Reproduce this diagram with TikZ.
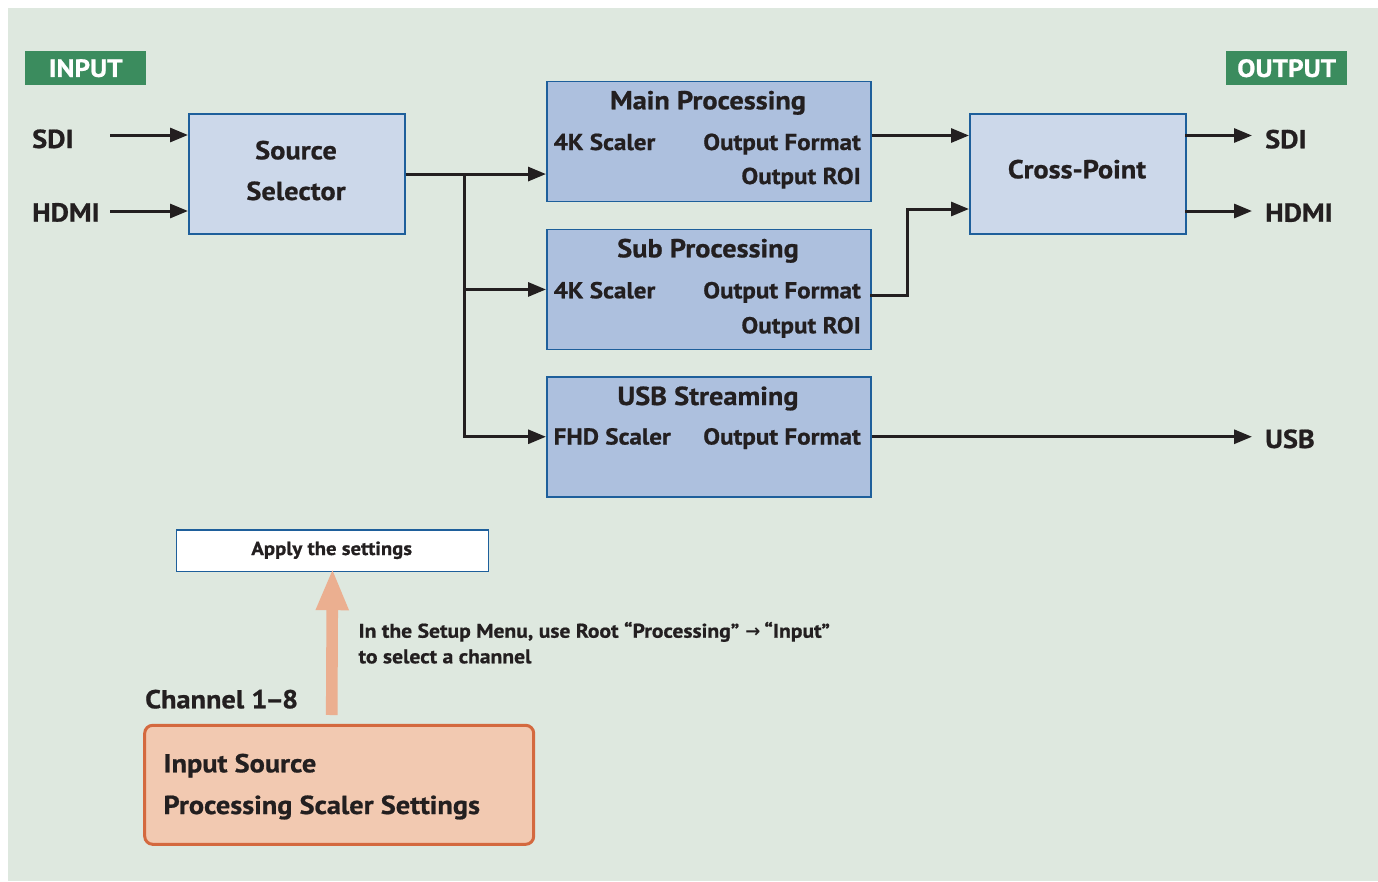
\documentclass[tikz,border=0pt]{standalone}
\usepackage{fontspec}
\setmainfont{PT Sans}[FakeStretch=1.09, BoldFeatures={FakeBold=0.8}]
\newfontfamily\symfont{DejaVu Sans}
\usetikzlibrary{arrows.meta}

\definecolor{bg}{RGB}{222,232,223}
\definecolor{tagbg}{RGB}{59,140,94}
\definecolor{lightbox}{RGB}{204,216,234}
\definecolor{procbox}{RGB}{173,192,222}
\definecolor{boxline}{RGB}{30,95,155}
\definecolor{ink}{RGB}{35,31,32}
\definecolor{peach}{RGB}{242,201,177}
\definecolor{peachline}{RGB}{212,105,63}
\definecolor{peacharrow}{RGB}{235,175,144}

\tikzset{
  blk/.style={draw=boxline, line width=1.5pt, inner sep=0pt, anchor=north west},
  sig/.style={draw=ink, line width=3pt, -{Triangle[length=18pt,width=14pt]}},
  big/.style={text=ink, font=\bfseries\fontsize{26}{30}\selectfont, inner sep=0pt},
  mid/.style={text=ink, font=\bfseries\fontsize{23}{28}\selectfont, inner sep=0pt},
  small/.style={text=ink, font=\bfseries\fontsize{19}{25.6}\selectfont, inner sep=0pt},
  note/.style={text=ink, font=\bfseries\fontsize{19.8}{25.6}\selectfont, inner sep=0pt},
  tag/.style={fill=tagbg, text=white, font=\bfseries\fontsize{25}{30}\selectfont,
    minimum width=121pt, minimum height=34pt, inner sep=0pt, anchor=north west},
}

\begin{document}
\begin{tikzpicture}[x=1pt, y=-1pt]
  \useasboundingbox (0,0) rectangle (1378,881);
  \fill[bg] (8,8) rectangle (1378,881);

  % section tags
  \node[tag] (intag) at (25,51) {INPUT};
  \node[tag] (outtag) at (1226,51) {OUTPUT};

  % input labels
  \node[big, anchor=base west] (sdiin) at (32,148) {SDI};
  \node[big, anchor=base west] (hdmiin) at (32,221.5) {HDMI};

  % source selector
  \node[blk, fill=lightbox, minimum width=216pt, minimum height=120pt] (src) at (188,113.3) {};
  \node[big, anchor=base] (srct1) at (296,159.3) {Source};
  \node[big, anchor=base] (srct2) at (296,200) {Selector};

  % processing blocks
  \node[blk, fill=procbox, minimum width=324pt, minimum height=120pt] (main) at (546,80.7) {};
  \node[big, anchor=base] (maint) at (708,109.3) {Main Processing};
  \node[mid, anchor=base west] (mainsc) at (553.5,150) {4K Scaler};
  \node[mid, anchor=base east] (mainof) at (861,150) {Output Format};
  \node[mid, anchor=base east] (mainroi) at (861,184) {Output ROI};

  \node[blk, fill=procbox, minimum width=324pt, minimum height=120pt] (sub) at (546,228.7) {};
  \node[big, anchor=base] (subt) at (708,257.3) {Sub Processing};
  \node[mid, anchor=base west] (subsc) at (553.5,298.3) {4K Scaler};
  \node[mid, anchor=base east] (subof) at (861,298.3) {Output Format};
  \node[mid, anchor=base east] (subroi) at (861,333.3) {Output ROI};

  \node[blk, fill=procbox, minimum width=324pt, minimum height=120pt] (usb) at (546,376) {};
  \node[big, anchor=base] (usbt) at (708,405) {USB Streaming};
  \node[mid, anchor=base west] (usbsc) at (553.5,444.5) {FHD Scaler};
  \node[mid, anchor=base east] (usbof) at (861,444.5) {Output Format};

  % cross-point
  \node[blk, fill=lightbox, minimum width=216pt, minimum height=120pt] (cp) at (969,113.3) {};
  \node[big, anchor=base] (cpt) at (1077,178.3) {Cross-Point};

  % output labels
  \node[big, anchor=base west] (sdiout) at (1265,148.3) {SDI};
  \node[big, anchor=base west] (hdmiout) at (1265,221.7) {HDMI};
  \node[big, anchor=base west] (usbout) at (1265,448) {USB};

  % connector ends
  \coordinate (sdiA) at (110,135);
  \coordinate (hdmiA) at (110,211);
  \coordinate (br) at (464,173.3);
  \coordinate (cpin1) at (969,135.5);
  \coordinate (cpin2) at (969,209);
  \coordinate (subout) at (870,295);
  \coordinate (elbow) at (907,209);
  \coordinate (cpout1) at (1185,135.5);
  \coordinate (cpout2) at (1185,211);
  \coordinate (endx) at (1252,0);

  % signal flow
  \draw[sig] (sdiA) -- (sdiA -| src.west);
  \draw[sig] (hdmiA) -- (hdmiA -| src.west);
  \draw[sig] (src.east) -- (src.east -| main.west);
  \draw[sig] (br) |- (sub.west);
  \draw[sig] (br) |- (usb.west);
  \draw[sig] (main.east |- cpin1) -- (cpin1);
  \draw[sig] (subout) -| (elbow) -- (cpin2);
  \draw[sig] (cpout1) -- (cpout1 -| endx);
  \draw[sig] (cpout2) -- (cpout2 -| endx);
  \draw[sig] (usb.east) -- (usb.east -| endx);

  % settings part
  \node[blk, fill=white, minimum width=312pt, minimum height=41.7pt] (apply) at (175.7,529) {};
  \node[small, anchor=base] (applyt) at (331.7,555) {Apply the settings};

  \node[draw=peachline, fill=peach, line width=3pt, rounded corners=8pt,
        minimum width=389pt, minimum height=119pt, inner sep=0pt, anchor=north west]
        (setbox) at (143.2,723.8) {};
  \node[big, anchor=base west] (set1) at (163.3,772.3) {Input Source};
  \node[big, anchor=base west] (set2) at (163.3,814) {Processing Scaler Settings};

  \node[big, anchor=base west] (chan) at (145,708.3) {Channel 1\kern-2pt–\kern-2pt8};

  \coordinate (foot) at (331.7,715);
  \draw[draw=peacharrow, line width=11.6pt, -{Triangle[length=42pt,width=30pt]}]
    (foot) -- ([yshift=4pt]apply.south);

  \node[note, anchor=base west] (note1) at (358.3,637.7)
    {In the Setup Menu, use Root “Processing”\hspace{6pt}{\symfont\fontsize{18}{18}\selectfont →}\hspace{4pt}“Input”};
  \node[note, anchor=base west] (note2) at (358.3,663.3) {to select a channel};
\end{tikzpicture}
\end{document}
